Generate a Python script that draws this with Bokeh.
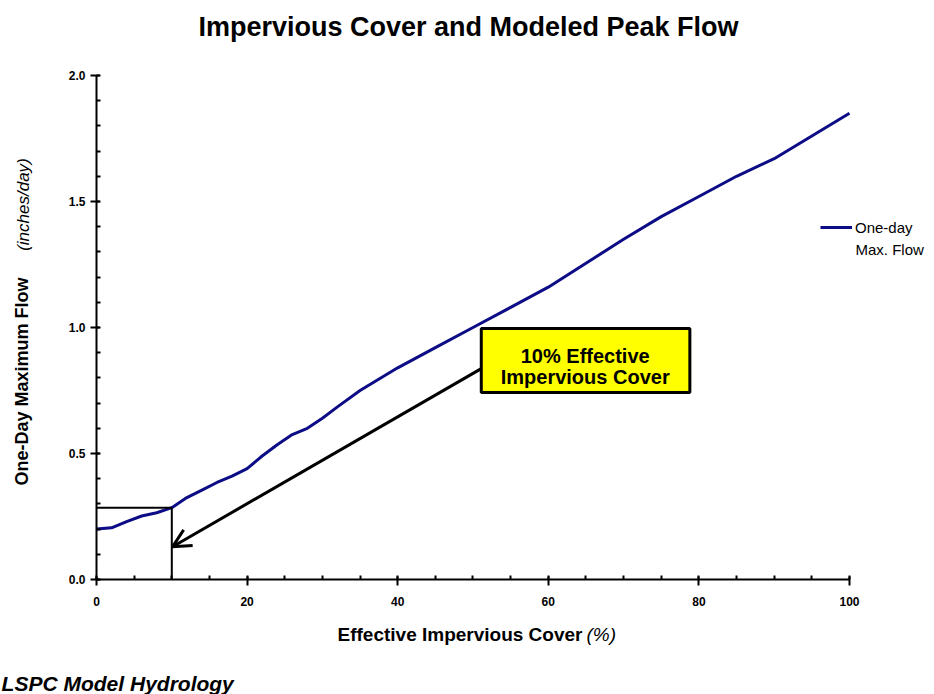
import numpy as np
from bokeh.plotting import figure
from bokeh.models import (Range1d, FixedTicker, Label, BoxAnnotation, Arrow, OpenHead,
                          Legend, LegendItem, ColumnDataSource)
from bokeh.embed import file_html
from bokeh.resources import INLINE

# ---- data ----
impervious = [0, 2, 4, 6, 8, 10, 12, 14, 16, 18, 20, 22, 24, 26, 28, 30, 32, 35,
              40, 45, 50, 55, 60, 65, 70, 75, 80, 85, 90, 95, 100]
peak_flow = [0.200, 0.205, 0.230, 0.252, 0.265, 0.285, 0.325, 0.355, 0.385, 0.410,
             0.440, 0.490, 0.535, 0.575, 0.600, 0.640, 0.685, 0.750,
             0.840, 0.920, 1.000, 1.080, 1.160, 1.255, 1.350, 1.440, 1.520,
             1.600, 1.670, 1.760, 1.850]
x_ticks = [0, 20, 40, 60, 80, 100]
x_tick_labels = ["0", "20", "40", "60", "80", "100"]
y_ticks = [0.0, 0.5, 1.0, 1.5, 2.0]
y_tick_labels = ["0.0", "0.5", "1.0", "1.5", "2.0"]
threshold = 10  # % effective impervious cover
threshold_flow = float(np.interp(threshold, impervious, peak_flow))

SANS = "Liberation Sans"
NAVY = "#0c0c86"

p = figure(width=934, height=694, output_backend="svg", toolbar_location=None,
           x_range=Range1d(0, 111.29), y_range=Range1d(0, 2.0),
           min_border_left=96, min_border_right=0, min_border_top=75,
           min_border_bottom=115, title=None)
p.outline_line_color = None
p.xgrid.visible = False
p.ygrid.visible = False
p.background_fill_color = "white"
p.border_fill_color = "white"

# axes
for ax in (p.xaxis[0], p.yaxis[0]):
    ax.axis_line_width = 2
    ax.axis_line_color = "black"
    ax.major_tick_line_width = 2
    ax.minor_tick_line_width = 2
    ax.major_tick_line_color = "black"
    ax.minor_tick_line_color = "black"
    ax.major_tick_out = 6
    ax.major_tick_in = 3
    ax.minor_tick_out = 0
    ax.minor_tick_in = 4
    ax.major_label_text_font = SANS
    ax.major_label_text_font_style = "bold"
    ax.major_label_text_font_size = "12px"
    ax.major_label_text_color = "black"

p.xaxis.bounds = (0, 100)
p.yaxis.bounds = (0, 2.0)
p.xaxis.ticker = FixedTicker(ticks=x_ticks, minor_ticks=list(np.arange(0, 101, 5)))
p.yaxis.ticker = FixedTicker(ticks=y_ticks, minor_ticks=list(np.round(np.arange(0, 2.01, 0.1), 2)))
p.xaxis.major_label_overrides = dict(zip(x_ticks, x_tick_labels))
p.yaxis.major_label_overrides = dict(zip(y_ticks, y_tick_labels))
p.xaxis.major_label_standoff = 11
p.yaxis.major_label_standoff = 5

# curve
src = ColumnDataSource(dict(x=impervious, y=peak_flow))
curve = p.line("x", "y", source=src, line_color=NAVY, line_width=3)

# threshold lines
p.line([0, threshold], [threshold_flow, threshold_flow], line_color="black", line_width=2)
p.line([threshold, threshold], [threshold_flow, 0], line_color="black", line_width=2)

# annotation box + arrow
box = BoxAnnotation(left=51.1, right=78.8, bottom=0.742, top=0.996,
                    fill_color="#ffff00", fill_alpha=1.0, line_color="black",
                    line_alpha=1.0, line_width=3, level="overlay")
p.add_layout(box)
p.add_layout(Arrow(end=OpenHead(size=18, line_width=3, line_color="black"),
                   x_start=51.1, y_start=0.837, x_end=threshold + 0.1, y_end=0.13,
                   line_width=3, line_color="black"))
for txt, yy in (("10% Effective", 0.886), ("Impervious Cover", 0.803)):
    p.add_layout(Label(x=64.9, y=yy, text=txt, text_align="center",
                       text_baseline="alphabetic", text_font=SANS,
                       text_font_style="bold", text_font_size="20px",
                       text_color="black", level="overlay"))

# legend
legend = Legend(items=[LegendItem(label="One-day", renderers=[curve])],
                location=(724, 342), orientation="vertical",
                glyph_width=32, glyph_height=20, label_height=20,
                label_standoff=3, padding=0, margin=0, spacing=0,
                border_line_color=None, background_fill_alpha=0,
                label_text_font=SANS, label_text_font_size="15px",
                label_text_color="black")
p.add_layout(legend)
p.add_layout(Label(x=759, y=330, x_units="screen", y_units="screen",
                   text="Max. Flow", text_baseline="middle", text_font=SANS,
                   text_font_size="15px", text_color="black"))

# texts outside the frame: placed in side panels, positioned in data units
def outer_label(side, **kw):
    base = dict(text_color="black", text_font=SANS, text_baseline="middle")
    base.update(kw)
    p.add_layout(Label(**base), side)

outer_label("above", x=49.4, y=2.194, text="Impervious Cover and Modeled Peak Flow",
            text_align="center", text_font_style="bold", text_font_size="27px")
outer_label("below", x=64.54, y=-0.218, text="Effective Impervious Cover",
            text_align="right", text_font_style="bold", text_font_size="19px")
outer_label("below", x=65.07, y=-0.218, text="(%)",
            text_align="left", text_font_style="italic", text_font_size="19px")
outer_label("below", x=-12.6, y=-0.413, text="LSPC Model Hydrology",
            text_align="left", text_font_style="bold italic", text_font_size="21px")
outer_label("left", x=-9.83, y=0.786, angle=np.pi / 2, text="One-Day Maximum Flow",
            text_align="center", text_font_style="bold", text_font_size="18px")
outer_label("left", x=-9.69, y=1.488, angle=np.pi / 2, text="(inches/day)",
            text_align="center", text_font_style="italic", text_font_size="17px")

open("out.html", "w").write(file_html(p, INLINE))
